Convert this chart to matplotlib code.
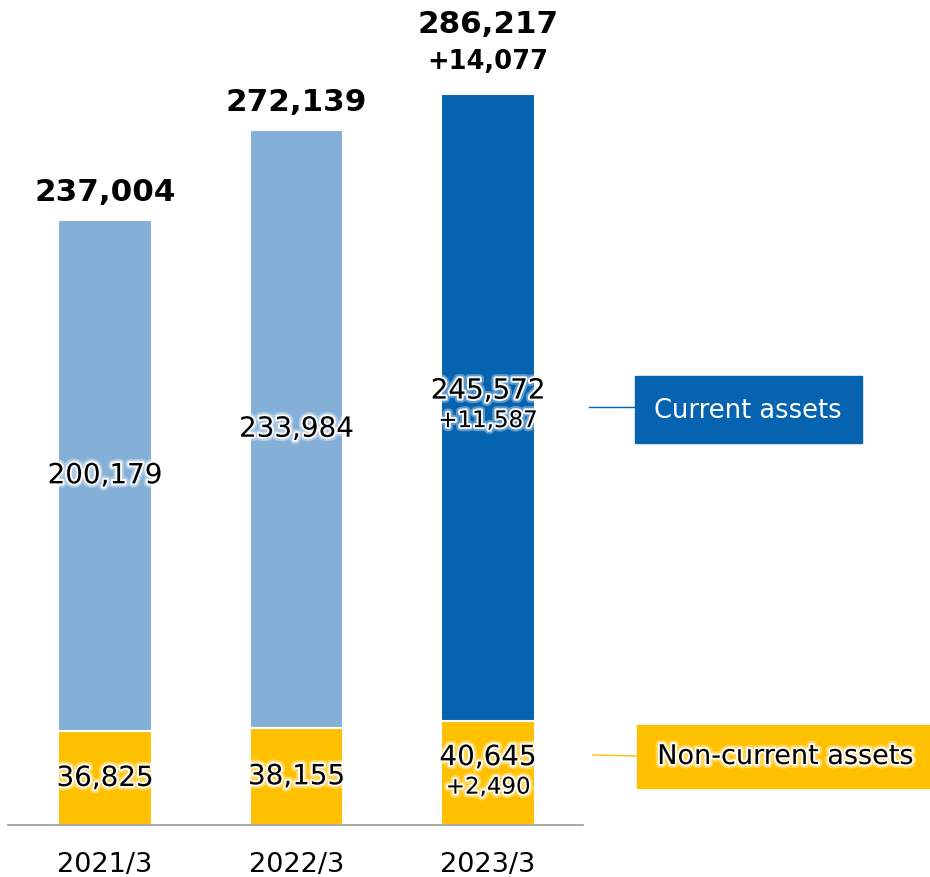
import matplotlib
matplotlib.use("Agg")
import matplotlib.pyplot as plt
import matplotlib.patheffects as pe
from matplotlib.patches import Rectangle
from matplotlib.lines import Line2D

years = ["2021/3", "2022/3", "2023/3"]
non_current = [36825, 38155, 40645]
current = [200179, 233984, 245572]
totals = [237004, 272139, 286217]
current_diff = "+11,587"
non_current_diff = "+2,490"
total_diff = "+14,077"

light_blue = "#84AFD6"
dark_blue = "#0563AF"
yellow = "#FFC000"

plt.rcParams['font.family'] = ['DejaVu Sans']
# soft white halo round the labels
glow = [pe.withStroke(linewidth=6, foreground="white", alpha=0.35),
        pe.withStroke(linewidth=3, foreground="white", alpha=0.9)]

fig = plt.figure(figsize=(9.3, 8.78), dpi=100)
ax = fig.add_axes([8/930, 52/878, 575/930, 826/878])

x = list(range(len(years)))
w = 0.49
cur_colors = [light_blue, light_blue, dark_blue]
ax.bar(x, non_current, width=w, color=yellow, edgecolor="white", linewidth=1.5)
ax.bar(x, current, bottom=non_current, width=w, color=cur_colors, edgecolor="white", linewidth=1.5)

ax.set_xlim(-0.507, 2.496)
ax.set_ylim(0, 323400)
for s in ["top", "left", "right"]:
    ax.spines[s].set_visible(False)
ax.spines["bottom"].set_color("#999999")
ax.spines["bottom"].set_linewidth(1.2)
ax.set_yticks([])
ax.set_xticks(x)
ax.set_xticklabels(years, fontsize=19.5)
ax.tick_params(axis="x", length=0, pad=19)

for i in x:
    mid_c = non_current[i] + current[i] / 2
    mid_n = non_current[i] / 2
    if i < 2:
        ax.text(i, mid_c, f"{current[i]:,}", ha="center", va="center", fontsize=20, path_effects=glow)
        ax.text(i, mid_n, f"{non_current[i]:,}", ha="center", va="center", fontsize=20, path_effects=glow)
        ax.annotate(f"{totals[i]:,}", (i, totals[i]), xytext=(0, 28), textcoords="offset pixels",
                    ha="center", va="center", fontsize=22.3, fontweight="bold")
    else:
        ax.annotate(f"{current[i]:,}", (i, mid_c), xytext=(0, 17), textcoords="offset pixels",
                    ha="center", va="center", fontsize=20, path_effects=glow)
        ax.annotate(current_diff, (i, mid_c), xytext=(0, -13), textcoords="offset pixels",
                    ha="center", va="center", fontsize=16.5, path_effects=glow)
        ax.annotate(f"{non_current[i]:,}", (i, mid_n), xytext=(0, 16), textcoords="offset pixels",
                    ha="center", va="center", fontsize=20, path_effects=glow)
        ax.annotate(non_current_diff, (i, mid_n), xytext=(0, -14), textcoords="offset pixels",
                    ha="center", va="center", fontsize=16.5, path_effects=glow)
        ax.annotate(f"{totals[i]:,}", (i, totals[i]), xytext=(0, 70), textcoords="offset pixels",
                    ha="center", va="center", fontsize=22.3, fontweight="bold")
        ax.annotate(total_diff, (i, totals[i]), xytext=(0, 33), textcoords="offset pixels",
                    ha="center", va="center", fontsize=18.5, fontweight="bold")

# legend boxes
def fx(px):
    return px / 930

def fy(py):
    return 1 - py / 878

fig.patches.append(Rectangle((fx(635), fy(444)), fx(862) - fx(635), fy(377) - fy(444),
                             transform=fig.transFigure, color=dark_blue, zorder=3))
fig.text(fx(748), fy(411), "Current assets", ha="center", va="center", color="white", fontsize=18.5, zorder=4)
fig.lines.append(Line2D([fx(589), fx(635)], [fy(408), fy(408)], transform=fig.transFigure,
                        color=dark_blue, linewidth=1))

fig.patches.append(Rectangle((fx(637), fy(789)), fx(930) - fx(637), fy(726) - fy(789),
                             transform=fig.transFigure, color=yellow, zorder=3))
fig.text(fx(786), fy(758), "Non-current assets", ha="center", va="center", color="black", fontsize=19.5,
         zorder=4, path_effects=glow)
fig.lines.append(Line2D([fx(593), fx(637)], [fy(756), fy(757)], transform=fig.transFigure,
                        color=yellow, linewidth=1))

fig.savefig("out.png", dpi=100)
